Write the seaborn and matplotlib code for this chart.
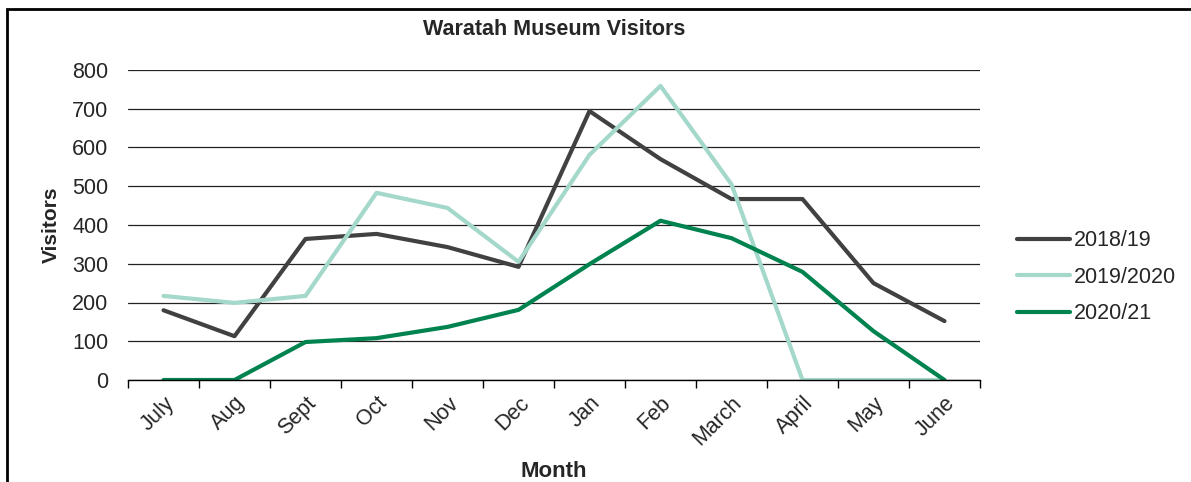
import pandas as pd
import matplotlib.pyplot as plt
import seaborn as sns
from matplotlib.patches import Rectangle

months = ['July', 'Aug', 'Sept', 'Oct', 'Nov', 'Dec',
          'Jan', 'Feb', 'March', 'April', 'May', 'June']
visitors_2018_19 = [180, 113, 364, 377, 343, 292, 694, 570, 467, 467, 250, 152]
visitors_2019_20 = [217, 199, 217, 483, 444, 305, 581, 759, 505, 0, 0, 0]
visitors_2020_21 = [0, 0, 98, 108, 137, 181, 299, 411, 366, 279, 126, 0]
seasons = ['2018/19', '2019/2020', '2020/21']
colours = ['#414141', '#A4D8CA', '#00834F']

# Long format table for seaborn
df = pd.DataFrame({
    'Month': months * 3,
    'Visitors': visitors_2018_19 + visitors_2019_20 + visitors_2020_21,
    'Season': [s for s in seasons for _ in months],
})
df['pos'] = list(range(len(months))) * 3

sns.set_style('white')
plt.rcParams['font.family'] = ['Liberation Sans', 'DejaVu Sans']
fs = 15.5

fig = plt.figure(figsize=(11.91, 4.82), dpi=100)
ax = fig.add_axes([128 / 1191, 1 - 380 / 482, 852 / 1191, 310 / 482])

sns.lineplot(data=df, x='pos', y='Visitors', hue='Season', hue_order=seasons,
             palette=colours, linewidth=3, ax=ax, sort=False)

ax.set_xlim(-0.5, 11.5)
ax.set_ylim(0, 800)
ax.set_yticks(range(0, 801, 100))
ax.tick_params(axis='y', labelsize=fs, length=0, pad=14)
ax.grid(axis='y', color='#222222', linewidth=0.9)
ax.set_axisbelow(True)

# Month labels at centres, tick marks at boundaries
ax.set_xticks(range(len(months)))
ax.set_xticklabels(months, rotation=45, ha='right', rotation_mode='anchor')
ax.tick_params(axis='x', which='major', length=0, labelsize=fs, pad=9)
ax.set_xticks([i - 0.5 for i in range(len(months) + 1)], minor=True)
ax.tick_params(axis='x', which='minor', length=6, width=1, color='black', direction='out')
ax.xaxis.set_ticks_position('bottom')

for side in ['top', 'right', 'left']:
    ax.spines[side].set_visible(False)
ax.spines['bottom'].set_color('black')
ax.spines['bottom'].set_linewidth(1)

ax.set_title('Waratah Museum Visitors', fontsize=fs, fontweight='bold', pad=25)
ax.set_xlabel('Month', fontsize=fs + 0.5, fontweight='bold', labelpad=8)
ax.set_ylabel('Visitors', fontsize=fs - 0.5, fontweight='bold', labelpad=8)

ax.legend(loc='center left', bbox_to_anchor=(1.043, 0.332), frameon=False,
          fontsize=fs, handlelength=2.5, handletextpad=0.15, labelspacing=0.72,
          borderaxespad=0, borderpad=0)

# Border around chart area
fig.patches.append(Rectangle((7 / 1191, -0.1), 1.2, 1 - 9 / 482 + 0.1,
                             transform=fig.transFigure, fill=False,
                             edgecolor='black', linewidth=2))

fig.savefig('out.png', dpi=100)
